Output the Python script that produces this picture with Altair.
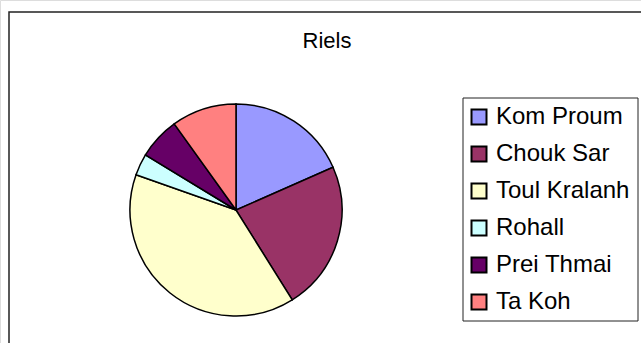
import altair as alt
import pandas as pd

categories = ["Kom Proum", "Chouk Sar", "Toul Kralanh", "Rohall", "Prei Thmai", "Ta Koh"]
values = [18.4, 22.7, 39.3, 3.3, 6.4, 9.9]
colors = ["#9999FF", "#993366", "#FFFFCC", "#CCFFFF", "#660066", "#FF8080"]
title_text = "Riels"

df = pd.DataFrame({"cat": categories, "val": values, "ord": list(range(len(categories)))})

FONT = "Liberation Sans"

frame = alt.Chart(pd.DataFrame({"a": [0]})).mark_rect(
    fill="white", stroke="#222222", strokeWidth=1.5
).encode(x=alt.value(9), x2=alt.value(700), y=alt.value(12), y2=alt.value(400))

legend_box = alt.Chart(pd.DataFrame({"a": [0]})).mark_rect(
    fill="white", stroke="#222222", strokeWidth=1
).encode(x=alt.value(463), x2=alt.value(638), y=alt.value(98), y2=alt.value(321))

title = alt.Chart(pd.DataFrame({"t": [title_text]})).mark_text(
    font=FONT, fontSize=22, color="black", baseline="alphabetic", align="center"
).encode(text="t:N", x=alt.value(327), y=alt.value(48))

pie = alt.Chart(df).mark_arc(
    outerRadius=106, stroke="black", strokeWidth=1.5
).encode(
    theta=alt.Theta("val:Q", stack=True),
    order=alt.Order("ord:Q"),
    color=alt.Color(
        "cat:N",
        scale=alt.Scale(domain=categories, range=colors),
        sort=categories,
        legend=alt.Legend(
            title=None,
            orient="none",
            legendX=467,
            legendY=105,
            padding=0,
            symbolType="square",
            symbolSize=225,
            symbolStrokeColor="black",
            symbolStrokeWidth=2,
            symbolOpacity=1,
            labelFont=FONT,
            labelFontSize=24,
            labelColor="black",
            labelOffset=5,
            rowPadding=13,
            labelLimit=300,
        ),
    ),
    x=alt.value(236),
    y=alt.value(210),
)

chart = alt.layer(frame, legend_box, title, pie).properties(
    width=641, height=343,
    autosize=alt.AutoSizeParams(type="none"),
    padding=0,
).configure_view(stroke=None).configure(background="white")

chart.save("out.html", embed_options={"renderer": "svg", "actions": False})
